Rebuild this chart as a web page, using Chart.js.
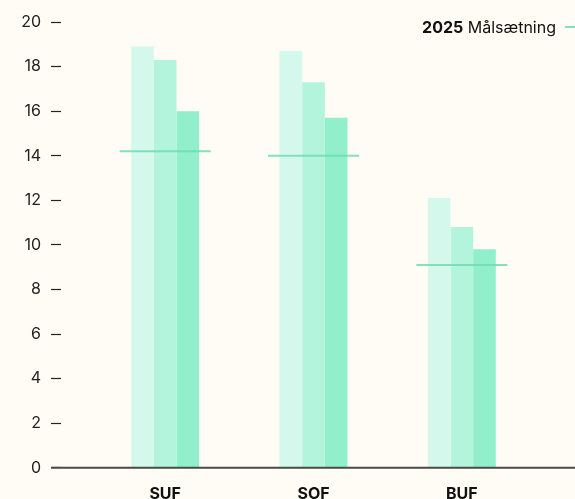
<!DOCTYPE html>
<html>
<head>
<meta charset="utf-8">
<script src="https://cdn.jsdelivr.net/npm/chart.js@4/dist/chart.umd.min.js"></script>
<style>
  html, body { margin: 0; padding: 0; background: #fffcf5; overflow: hidden; }
  #wrap { position: relative; width: 575px; height: 513px; }
  #legend { position: absolute; top: 17px; right: 19px; font-family: Inter, "Open Sans", sans-serif; font-size: 16px; color: #111; white-space: nowrap; line-height: 20px; }
  #legend b { font-weight: 700; }
  #legline { position: absolute; top: 26px; left: 565px; width: 20px; height: 2px; background: rgba(110,220,178,0.85); }
</style>
</head>
<body>
<div id="wrap">
  <canvas id="c" width="575" height="513"></canvas>
  <div id="legend"><b>2025</b> Målsætning</div>
  <div id="legline"></div>
</div>
<script>
const categories = ["SUF", "SOF", "BUF"];
const series1 = [18.9, 18.7, 12.1];
const series2 = [18.3, 17.3, 10.8];
const series3 = [16.0, 15.7, 9.8];
const target2025 = [14.2, 14.0, 9.1];
const yTicks = [0, 2, 4, 6, 8, 10, 12, 14, 16, 18, 20];

const baselinePlugin = {
  id: 'baseline',
  afterDraw(chart) {
    const y = chart.scales.y.getPixelForValue(0);
    const ctx = chart.ctx;
    ctx.save();
    ctx.strokeStyle = '#4a4a4a';
    ctx.lineWidth = 2;
    ctx.beginPath();
    ctx.moveTo(51, y);
    ctx.lineTo(chart.width, y);
    ctx.stroke();
    ctx.restore();
  }
};

new Chart(document.getElementById('c'), {
  data: {
    labels: categories,
    datasets: [
      { type: 'bar', data: series1, backgroundColor: '#d5f8ec', borderWidth: 0, order: 2 },
      { type: 'bar', data: series2, backgroundColor: '#b3f4dc', borderWidth: 0, order: 2 },
      { type: 'bar', data: series3, backgroundColor: '#91efcc', borderWidth: 0, order: 2 },
      { type: 'line', data: target2025, showLine: false, pointStyle: 'line', pointRadius: 45.5,
        pointHoverRadius: 45.5, borderColor: 'rgba(110,220,178,0.85)', pointBorderWidth: 2, borderWidth: 2, order: 1, clip: false }
    ]
  },
  options: {
    responsive: false,
    animation: false,
    events: [],
    layout: { autoPadding: false, padding: { top: 22, right: 39, left: 0, bottom: 0 } },
    plugins: { legend: { display: false }, tooltip: { enabled: false } },
    datasets: { bar: { categoryPercentage: 0.458, barPercentage: 1.0 } },
    scales: {
      x: {
        grid: { display: false },
        border: { display: false },
        ticks: { color: '#111', padding: 9, font: { family: 'Inter', size: 16, weight: 'bold' } }
      },
      y: {
        min: 0, max: 20,
        afterBuildTicks(scale) { scale.ticks = yTicks.map(v => ({ value: v })); },
        afterFit(scale) { scale.width = 91; },
        grid: { drawOnChartArea: false, tickLength: 40, tickBorderDash: [10, 60], tickColor: '#222', tickWidth: 1.2 },
        border: { display: false },
        ticks: { color: '#222', padding: 10, font: { family: 'Inter', size: 16 } }
      }
    }
  },
  plugins: [baselinePlugin]
});
</script>
</body>
</html>
